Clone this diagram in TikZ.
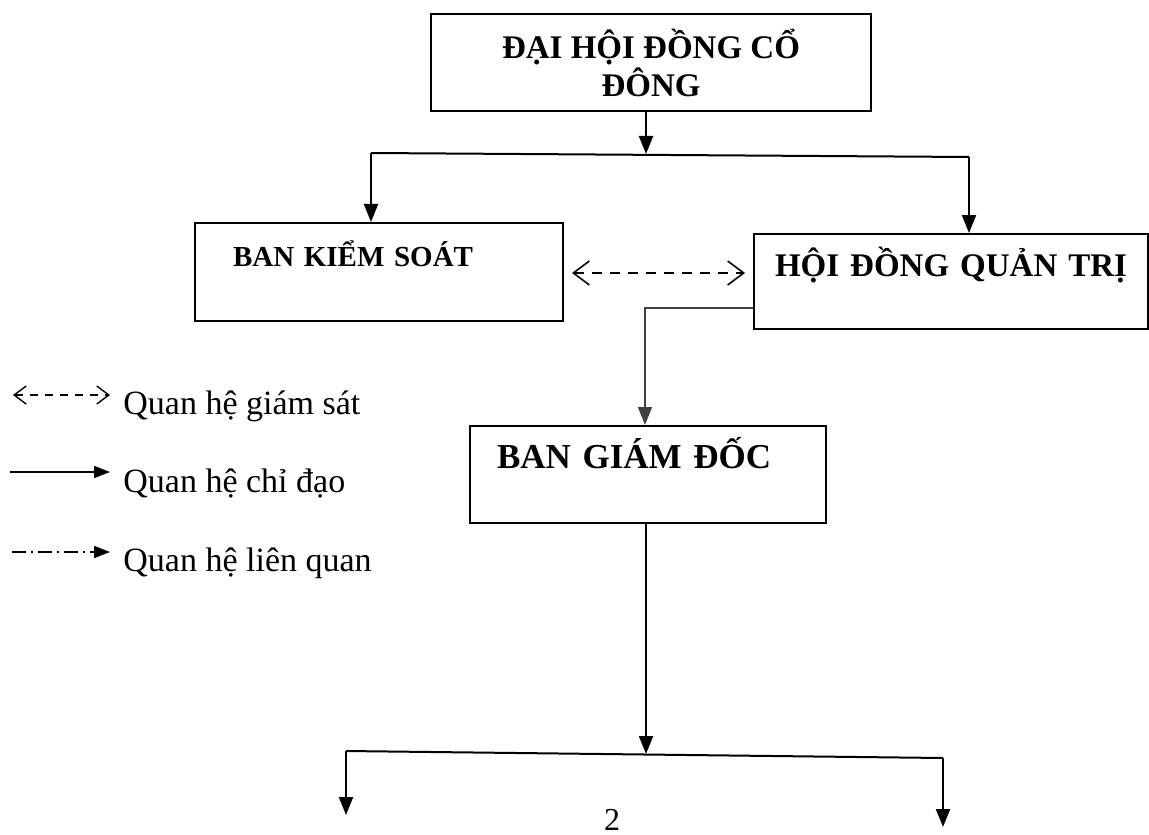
\documentclass[tikz,border=0pt]{standalone}
\usepackage{fontspec}
\setmainfont{Liberation Serif}
\usetikzlibrary{arrows.meta,positioning}

\newcommand{\boxfont}[1]{\fontsize{#1}{19}\selectfont\bfseries}

\tikzset{
  orgbox/.style={draw, line width=1pt, inner sep=0pt, align=left},
  lead/.style={line width=1pt, -{Triangle[width=7pt,length=9pt]}},
  watch/.style={line width=0.8pt, dash pattern=on 5pt off 4pt,
                {Straight Barb[width=12pt,length=8pt]}-{Straight Barb[width=12pt,length=8pt]}},
  legendtext/.style={anchor=base west, inner sep=0pt,
                     font=\fontsize{17}{20}\selectfont}
}

\begin{document}
\begin{tikzpicture}[x=0.5pt,y=-0.5pt]

  \useasboundingbox (0,0) rectangle (1149,834);

  % boxes
  \node [orgbox, align=center, minimum width=220pt, minimum height=48.5pt,
         font=\boxfont{16.5}] (dhdcd)
        at (651,62.5) {ĐẠI HỘI ĐỒNG CỔ \\ ĐÔNG};

  \node [orgbox, anchor=north, text width=184pt, font=\boxfont{14.5},
         text height=21.5pt, text depth=27.5pt] (bks)
        at (379,222) {\hspace*{19pt}BAN KIỂM SOÁT};

  \node [orgbox, anchor=north, text width=197pt, font=\boxfont{16.5},
         text height=21pt, text depth=26.5pt] (hdqt)
        at (951,233) {\hspace*{10.5pt}HỘI ĐỒNG QUẢN TRỊ};

  \node [orgbox, anchor=north, text width=178pt, font=\boxfont{17.5},
         text height=21pt, text depth=27.5pt] (bgd)
        at (648,425) {\hspace*{13.5pt}BAN GIÁM ĐỐC};

  % branch points
  \coordinate (split) at (646,154);
  \coordinate (kL) at (371,153);
  \coordinate (kR) at (969,157);
  \coordinate (q) at (645,308);
  \coordinate (fork) at (646,754);
  \coordinate (fL) at (346,751);
  \coordinate (fR) at (943,758);
  \coordinate (tL) at (346,815);
  \coordinate (tR) at (943,827);

  \draw [lead] (split |- dhdcd.south) -- (split);
  \draw [line width=1pt] (kL) -- (kR);
  \draw [lead] (kL) -- (kL |- bks.north);
  \draw [lead] (kR) -- (kR |- hdqt.north);

  \draw [watch, shorten <=4pt, shorten >=4pt]
        (bks.east |- 0,273) -- (hdqt.west |- 0,273);

  \draw [line width=0.6pt, black!75, -{Triangle[width=7pt,length=9pt]}]
        (hdqt.west |- q) -- (q) -- (q |- bgd.north);

  \draw [lead] (fork |- bgd.south) -- (fork);
  \draw [line width=1pt] (fL) -- (fR);
  \draw [lead] (fL) -- (tL);
  \draw [lead] (fR) -- (tR);

  % legend
  \coordinate (g1a) at (13,395);  \coordinate (g1b) at (110,395);
  \coordinate (g2a) at (10,472);  \coordinate (g2b) at (110,472);
  \coordinate (g3a) at (12,552);  \coordinate (g3b) at (110,552);

  \draw [line width=0.7pt, dash pattern=on 4pt off 3.5pt,
         {Straight Barb[width=9pt,length=6pt]}-{Straight Barb[width=9pt,length=6pt]}]
        (g1a) -- (g1b);
  \draw [line width=0.7pt, -{Triangle[width=6pt,length=8pt]}] (g2a) -- (g2b);
  \draw [line width=0.7pt, dash pattern=on 7pt off 2.5pt on 1pt off 2.5pt,
         -{Triangle[width=6pt,length=8pt]}] (g3a) -- (g3b);

  \node [legendtext] (t1) at (123,414) {Quan hệ giám sát};
  \node [legendtext] (t2) at (123,492) {Quan hệ chỉ đạo};
  \node [legendtext] (t3) at (123,571) {Quan hệ liên quan};

  % page number
  \node [anchor=base, inner sep=0pt, font=\fontsize{16}{19}\selectfont]
        (pg) at (612,830) {2};

\end{tikzpicture}
\end{document}
